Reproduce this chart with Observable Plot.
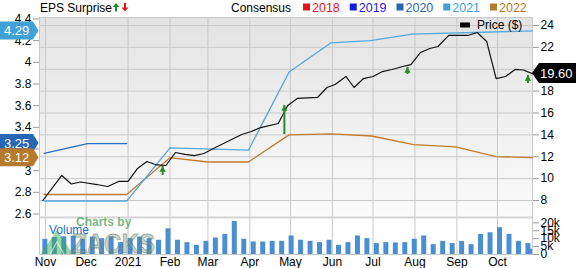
<!DOCTYPE html>
<html><head><meta charset="utf-8">
<script src="https://cdn.jsdelivr.net/npm/d3@7"></script>
<script src="https://cdn.jsdelivr.net/npm/@observablehq/plot@0.6"></script>
<style>
html,body{margin:0;padding:0;background:#fff;}
#chart{position:relative;width:576px;height:268px;overflow:hidden;font-family:"Liberation Sans",Arial,sans-serif;}
#chart svg{position:absolute;left:0;top:0;background:transparent !important;overflow:visible;}
</style></head><body><div id="chart"></div>
<script>
// ---------- data ----------
const priceDates = ["2020-10-30","2020-11-13","2020-11-20","2020-11-27","2020-12-09","2020-12-17","2020-12-25","2021-01-01","2021-01-08","2021-01-15","2021-01-22","2021-01-29","2021-02-05","2021-02-12","2021-02-19","2021-02-26","2021-03-08","2021-03-17","2021-03-26","2021-04-02","2021-04-09","2021-04-22","2021-04-29","2021-05-06","2021-05-21","2021-05-28","2021-06-03","2021-06-11","2021-06-17","2021-06-24","2021-07-01","2021-07-08","2021-07-15","2021-07-23","2021-07-29","2021-08-05","2021-08-12","2021-08-18","2021-08-26","2021-09-09","2021-09-16","2021-09-23","2021-09-30","2021-10-07","2021-10-14","2021-10-20","2021-10-26T20:00Z"];
const priceValues = [8.00,10.29,9.51,9.69,9.46,9.28,9.74,9.74,10.93,11.57,11.25,11.20,12.39,12.21,12.11,12.30,12.94,13.49,14.03,14.31,14.67,15.04,16.69,17.33,17.42,18.33,18.61,19.34,18.33,19.15,19.34,19.79,19.98,20.25,20.43,21.53,21.90,22.08,23.09,23.09,23.36,22.54,19.15,19.34,19.98,19.93,19.60];

const cons2020Dates = ["2020-10-31","2020-12-02","2020-12-31"];
const cons2020 = [3.16,3.25,3.25];
const cons2021Dates = ["2020-10-31","2020-12-31","2021-02-01","2021-03-31","2021-04-30","2021-05-31","2021-06-29","2021-07-30","2021-10-26T20:00Z"];
const cons2021 = [2.72,2.72,3.21,3.19,3.91,4.18,4.20,4.26,4.29];
const cons2022Dates = ["2020-10-31","2020-12-31","2021-02-01","2021-03-01","2021-03-31","2021-04-30","2021-05-31","2021-06-30","2021-07-31","2021-08-31","2021-09-30","2021-10-26T20:00Z"];
const cons2022 = [2.78,2.78,3.12,3.08,3.08,3.33,3.34,3.32,3.24,3.22,3.13,3.12];

const badgeYears = ["2021","2020","2022"];
const badgeValues = [4.29,3.25,3.12];

const beatDates = ["2021-01-26T12:00Z","2021-04-26T12:00Z","2021-07-26T12:00Z","2021-10-23T12:00Z"];
const beatTop = [11.11,16.69,20.16,19.43];
const beatBottom = [10.29,14.03,19.52,18.70];

const volStart = "2020-10-31T12:00Z";
const volLastDate = "2021-10-26T12:00Z";
const volumes = [9.6,10.6,11.2,11.6,9.6,11.0,10.0,11.2,7.5,10.0,11.0,10.0,9.0,16.2,9.0,7.5,5.8,8.3,10.4,12.7,20.8,9.6,7.9,7.9,8.3,8.3,11.7,9.0,8.3,7.5,9.0,5.8,7.5,11.7,10.0,6.9,7.5,7.3,7.5,9.6,11.7,6.2,8.3,6.9,8.3,6.2,12.7,13.7,16.9,12.7,8.3,6.9,3.3];

const monthTickDates = ["2020-11-01","2020-12-01","2021-01-01","2021-02-01","2021-03-01","2021-04-01","2021-05-01","2021-06-01","2021-07-01","2021-08-01","2021-09-01","2021-10-01"];
const monthLabels = ["Nov","Dec","2021","Feb","Mar","Apr","May","Jun","Jul","Aug","Sep","Oct"];
const priceTicks = [8,10,12,14,16,18,20,22,24];
const epsTicks = [2.6,2.8,3,3.2,3.4,3.6,3.8,4,4.2,4.4];
const volTicks = [0,5,10,15,20];
const legendYears = ["2018","2019","2020","2021","2022"];

// ---------- styles ----------
const yearColors = {"2018":"#e8101a","2019":"#1a1ae6","2020":"#2766b4","2021":"#3fa1d6","2022":"#b67a2d"};
const lineColors = {"2020":"#2f6ec0","2021":"#55a9dc","2022":"#c07b32"};
const gridColor = "#c9c9c9";
const green = "#1f8f24";
const volColor = "#4b8fd3";
const font = "'Liberation Sans', Arial, sans-serif";

// ---------- build tables ----------
const D = s => new Date(s.length === 10 ? s + "T00:00Z" : s);
const priceData = priceDates.map((d,i) => ({date: D(d), price: priceValues[i]}));
const mk = (ds, vs) => ds.map((d,i) => ({date: D(d), eps: vs[i]}));
const s2020 = mk(cons2020Dates, cons2020), s2021 = mk(cons2021Dates, cons2021), s2022 = mk(cons2022Dates, cons2022);
const beats = beatDates.map((d,i) => ({date: D(d), top: beatTop[i], bottom: beatBottom[i]}));
const volDates = d3.range(volumes.length - 1).map(i => d3.utcDay.offset(D(volStart), 7*i)).concat([D(volLastDate)]);
const volData = volumes.map((v,i) => ({date: volDates[i], vol: v}));
const monthTicks = monthTickDates.map(D);
const labelMap = new Map(monthTicks.map((d,i) => [+d, monthLabels[i]]));

const W = 576, H = 268;
const xDomain = [D("2020-10-27T13:00Z"), D("2021-10-26T21:00Z")];
const priceDomain = [6.446, 24.731];
const epsDomain = [2.5677, 4.4138];
const volDomain = [0, 23.34];

const chart = document.getElementById("chart");
const base = {
  width: W, height: H, marginLeft: 39, marginRight: 44,
  x: {type: "utc", domain: xDomain, axis: null},
  style: {background: "transparent", fontFamily: font, fontSize: "12px", color: "#000", overflow: "visible"}
};
const add = svg => { chart.appendChild(svg); return svg; };

// layer 1: background, grid, price axis
const p1 = add(Plot.plot({...base, marginTop: 17, marginBottom: 51,
  y: {domain: priceDomain, axis: null},
  marks: [
    Plot.frame({fill: "url(#bgGrad)"}),
    Plot.ruleX(monthTicks, {stroke: gridColor}),
    Plot.ruleY(priceTicks, {stroke: gridColor}),
    Plot.frame({stroke: gridColor}),
    Plot.axisY(priceTicks, {anchor: "right", label: null, tickSize: 6, tickPadding: 2, stroke: "#9a9a9a", fill: "#000", tickFormat: d => String(d)})
  ]}));
d3.select(p1).insert("defs", ":first-child").html('<linearGradient id="bgGrad" x1="0" y1="0" x2="0" y2="1"><stop offset="0" stop-color="#e3e3e3"/><stop offset="1" stop-color="#fbfbfb"/></linearGradient>');

// layer 2: consensus lines & EPS axis
const p2 = add(Plot.plot({...base, marginTop: 17, marginBottom: 51,
  y: {domain: epsDomain, axis: null},
  marks: [
    Plot.line(s2022, {x: "date", y: "eps", stroke: lineColors["2022"], strokeWidth: 1.3}),
    Plot.line(s2020, {x: "date", y: "eps", stroke: lineColors["2020"], strokeWidth: 1.3}),
    Plot.line(s2021, {x: "date", y: "eps", stroke: lineColors["2021"], strokeWidth: 1.3}),
    Plot.axisY(epsTicks, {anchor: "left", label: null, tickSize: 6, tickPadding: 2, stroke: "#9a9a9a", fill: "#000", tickFormat: d => d3.format("~g")(d)})
  ]}));
{
  const yE = p2.scale("y");
  const g = d3.select(p2).append("g").attr("text-anchor", "start").attr("font-family", font);
  badgeYears.forEach((yr,i) => {
    const y = yE.apply(badgeValues[i]);
    g.append("path").attr("d", `M0,${y-9}H33L38.5,${y}L33,${y+9}H0Z`).attr("fill", yearColors[yr]);
    g.append("text").attr("x", 4).attr("y", y).attr("dy", "0.36em").attr("fill", "#fff")
      .attr("font-size", 13).text(badgeValues[i].toFixed(2));
  });
}

// layer 3: price line & surprise arrows
const p3 = add(Plot.plot({...base, marginTop: 17, marginBottom: 51,
  y: {domain: priceDomain, axis: null},
  marks: [
    Plot.line(priceData, {x: "date", y: "price", stroke: "#111", strokeWidth: 1.2}),
    Plot.ruleX(beats, {x: "date", y1: "bottom", y2: "top", stroke: green, strokeWidth: 2}),
    Plot.dot(beats, {x: "date", y: "top", symbol: "triangle", r: 2.3, fill: green, stroke: null, dy: 3.4})
  ]}));
{
  const yP = p3.scale("y");
  const last = priceData[priceData.length - 1];
  const y = yP.apply(last.price);
  const g = d3.select(p3).append("g").attr("text-anchor", "start").attr("font-family", font);
  g.append("path").attr("d", `M532,${y}L539,${y-10}H576V${y+10}H539Z`).attr("fill", "#000");
  g.append("text").attr("x", 540).attr("y", y).attr("dy", "0.36em").attr("fill", "#fff")
    .attr("font-size", 13).text(last.price.toFixed(2));
  g.append("rect").attr("x", 460).attr("y", 22.5).attr("width", 10).attr("height", 5).attr("fill", "#000");
  g.append("text").attr("x", 477).attr("y", 29).attr("font-size", 12).attr("fill", "#000").text("Price ($)");
}

// layer 4: volume panel, time axis, legend
const p4 = add(Plot.plot({...base, marginTop: 217, marginBottom: 14,
  y: {domain: volDomain, axis: null},
  marks: [
    Plot.ruleX(monthTicks, {stroke: gridColor}),
    Plot.ruleX(volData, {x: "date", y1: 0, y2: "vol", stroke: volColor, strokeWidth: 5, clip: true}),
    Plot.frame({stroke: gridColor}),
    Plot.ruleY([volDomain[1]], {stroke: "#d4d4d4", strokeWidth: 2}),
    Plot.axisY(volTicks, {anchor: "right", label: null, tickSize: 6, tickPadding: 2, stroke: "#9a9a9a", fill: "#000", tickFormat: d => d === 0 ? "0" : d + "k"}),
    Plot.axisX(monthTicks, {anchor: "bottom", label: null, tickSize: 0, tickPadding: 3, fill: "#000", tickFormat: d => labelMap.get(+d)})
  ]}));
{
  const g = d3.select(p4).append("g").attr("text-anchor", "start").attr("font-family", font);
  // watermark
  g.append("path").attr("d", "M41,254L57,230L73,254Z").attr("fill", "rgba(60,170,80,0.5)");
  g.append("path").attr("d", "M50,254L57,242L64,254").attr("fill", "none").attr("stroke", "rgba(255,255,255,0.6)").attr("stroke-width", 1.2);
  g.append("text").attr("x", 72).attr("y", 253).attr("font-size", 28).attr("font-weight", "bold")
    .attr("textLength", 83).attr("lengthAdjust", "spacingAndGlyphs")
    .attr("fill", "rgba(120,150,125,0.42)").attr("stroke", "rgba(80,110,90,0.5)").attr("stroke-width", 0.8).text("ZACKS");
  g.append("text").attr("x", 76).attr("y", 226).attr("font-size", 12).attr("font-weight", "bold")
    .attr("fill", "rgba(80,160,90,0.75)").text("Charts by");
  g.append("text").attr("x", 49).attr("y", 233.5).attr("font-size", 12).attr("fill", "#1a73c8").text("Volume");
  // top legend
  g.append("text").attr("x", 40).attr("y", 11.5).attr("font-size", 12).attr("fill", "#000").text("EPS Surprise");
  g.append("path").attr("d", "M112.5,7L116,3L119.5,7H117V11.5H115V7Z").attr("fill", green);
  g.append("path").attr("d", "M121.5,7.5L125,11.5L128.5,7.5H126V3H124V7.5Z").attr("fill", "#e8101a");
  g.append("text").attr("x", 231).attr("y", 11.5).attr("font-size", 12).attr("fill", "#000").text("Consensus");
  legendYears.forEach((yr,i) => {
    const x = 303 + i*46.75;
    g.append("rect").attr("x", x).attr("y", 3.5).attr("width", 7).attr("height", 7).attr("fill", yearColors[yr]);
    g.append("text").attr("x", x + 9).attr("y", 11.5).attr("font-size", 12.5).attr("fill", yearColors[yr]).text(yr);
  });
}
</script></body></html>
